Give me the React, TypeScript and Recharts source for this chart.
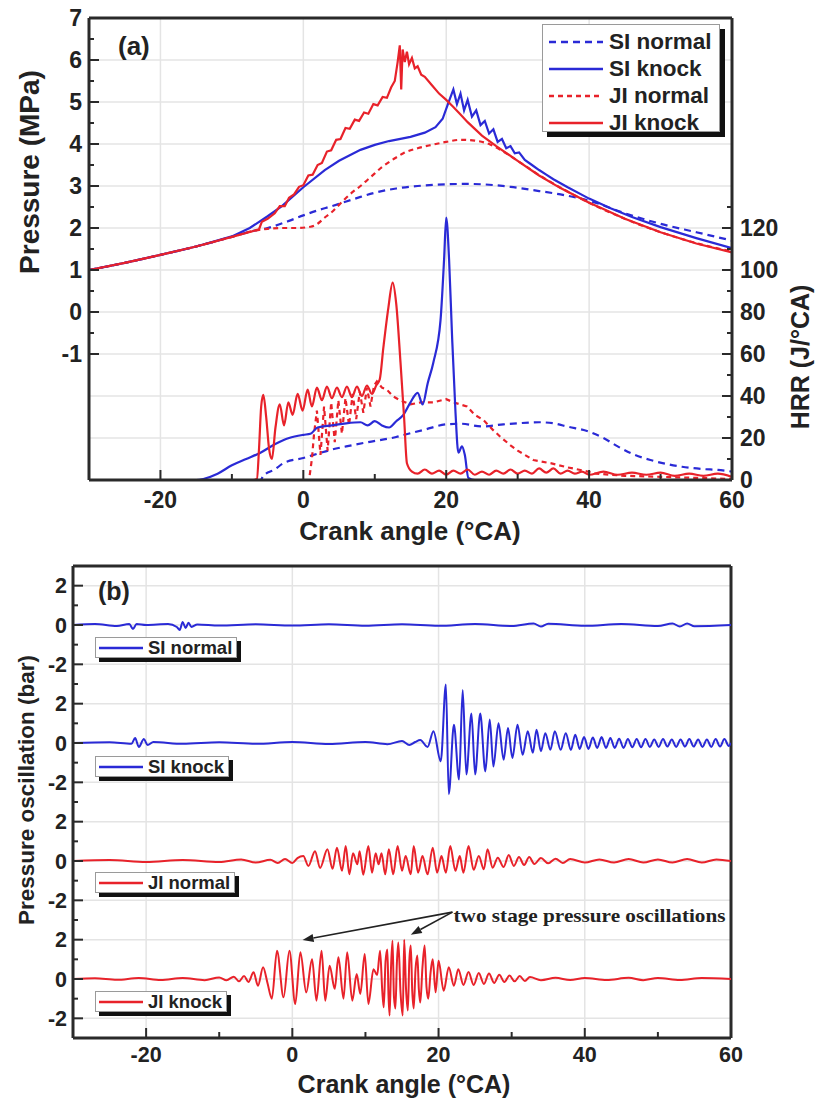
import React from 'react';
import { LineChart, Line, XAxis, YAxis, CartesianGrid, ReferenceLine, ReferenceDot } from 'recharts';

type Pt = [number, number];

const BLUE = '#2a2ad6';
const RED = '#e8222a';
const AXIS = '#2a2a2a';
const GRID = '#e4e4e4';
const FONT = '"Liberation Sans", Arial, sans-serif';
const SERIF = '"Liberation Serif", "Times New Roman", serif';

// ---------- axis ticks ----------
const X_TICKS = [-20, -10, 0, 10, 20, 30, 40, 50, 60];
const X_LABELS = [-20, 0, 20, 40, 60];
const X_GRID = [-20, 0, 20, 40];

const P_TICKS = [-1, -0.5, 0, 0.5, 1, 1.5, 2, 2.5, 3, 3.5, 4, 4.5, 5, 5.5, 6, 6.5, 7];
const P_GRID = [-3, -2, -1, 0, 1, 2, 3, 4, 5, 6];
const HRR_TICKS = [0, 10, 20, 30, 40, 50, 60, 70, 80, 90, 100, 110, 120, 130];
const HRR_LABELS = [0, 20, 40, 60, 80, 100, 120];

const B_TICKS = [-2, -1, 0, 1, 2, 3, 4, 5, 6, 7, 8, 9, 10, 11, 12, 13, 14, 15, 16, 17, 18, 19, 20];
const B_TICK_VALUES = [-2, 0, 2, 4, 6, 8, 10, 12, 14, 16, 18, 20];
const B_TICK_LABELS = ['-2', '0', '2', '-2', '0', '2', '-2', '0', '2', '-2', '0', '2'];
const B_GRID = [-2, 0, 2, 4, 6, 8, 10, 12, 14, 16, 18, 20];

// ---------- panel (a): pressure (MPa) ----------
const SI_NORMAL_P: Pt[] = [[-30, 1], [-25, 1.17], [-20, 1.36], [-15, 1.56], [-10, 1.79], [-7, 1.93], [-5, 2.0], [-4, 2.05], [-2, 2.17], [0, 2.3], [2, 2.42], [4, 2.52], [6, 2.63], [8, 2.74], [10, 2.84], [13, 2.94], [16, 3.0], [20, 3.04], [23, 3.05], [26, 3.03], [29, 2.98], [33, 2.88], [36, 2.8], [40, 2.65], [45, 2.35], [50, 2.1], [55, 1.9], [60, 1.7]];
const SI_KNOCK_P: Pt[] = [[-30, 1], [-25, 1.17], [-20, 1.36], [-15, 1.56], [-10, 1.8], [-7.5, 2.0], [-5, 2.28], [-3, 2.52], [0, 2.97], [3, 3.38], [5, 3.6], [8, 3.86], [10, 3.98], [12, 4.07], [15, 4.17], [17, 4.27], [18.5, 4.4], [19.5, 4.6], [20.3, 4.98], [21, 5.3], [21.5, 4.95], [22, 5.2], [22.5, 4.8], [23, 5.05], [23.6, 4.65], [24.2, 4.8], [24.8, 4.45], [25.4, 4.55], [26, 4.25], [26.6, 4.35], [27.2, 4.05], [27.8, 4.12], [28.4, 3.9], [29, 3.95], [29.6, 3.78], [30.2, 3.8], [31, 3.62], [32, 3.5], [33, 3.38], [34, 3.27], [35, 3.16], [37, 2.97], [40, 2.7], [43, 2.47], [46, 2.26], [50, 2.02], [55, 1.76], [60, 1.52]];
const JI_NORMAL_P: Pt[] = [[-30, 1], [-25, 1.17], [-20, 1.36], [-15, 1.56], [-10, 1.79], [-7, 1.93], [-5, 1.98], [-3, 2.0], [-1, 2.0], [1, 2.03], [2, 2.1], [3, 2.25], [4, 2.38], [5, 2.55], [6, 2.72], [7, 2.87], [8, 3.0], [9, 3.15], [10, 3.3], [11, 3.45], [12, 3.57], [13, 3.68], [14, 3.78], [16, 3.9], [18, 3.98], [20, 4.05], [22, 4.1], [24, 4.08], [26, 4.0], [28, 3.82], [30, 3.6], [33, 3.26], [36, 2.96], [40, 2.6], [45, 2.22], [50, 1.9], [55, 1.64], [60, 1.44]];
const JI_KNOCK_P: Pt[] = [[-30, 1], [-25, 1.17], [-20, 1.36], [-15, 1.56], [-10, 1.79], [-7, 1.93], [-6.2, 1.97], [-5.8, 2.15], [-5, 2.22], [-4, 2.35], [-3.3, 2.52], [-2.6, 2.52], [-2, 2.72], [-1.3, 2.8], [-0.6, 2.98], [0, 3.02], [0.7, 3.25], [1.3, 3.27], [2, 3.5], [2.6, 3.55], [3.3, 3.82], [3.9, 3.85], [4.6, 4.1], [5.2, 4.12], [5.9, 4.38], [6.5, 4.36], [7.2, 4.58], [7.8, 4.55], [8.5, 4.75], [9.1, 4.72], [9.8, 4.95], [10.4, 4.92], [11.1, 5.12], [11.7, 5.1], [12.3, 5.35], [12.8, 5.5], [13.2, 5.95], [13.5, 6.35], [13.7, 5.3], [13.9, 6.25], [14.2, 5.95], [14.5, 6.2], [14.8, 5.9], [15.2, 6.05], [15.6, 5.8], [16, 5.85], [16.5, 5.65], [17, 5.6], [18, 5.4], [19, 5.2], [20, 5.05], [21, 4.88], [22, 4.7], [23, 4.52], [24, 4.36], [25, 4.2], [27, 3.95], [30, 3.6], [33, 3.25], [36, 2.95], [40, 2.6], [42, 2.45], [45, 2.22], [50, 1.9], [55, 1.63], [60, 1.42]];

// ---------- panel (a): heat release rate (J/°CA) ----------
const SI_NORMAL_HRR: Pt[] = [[-30, 0], [-6, 0], [-5.6, 2], [-4, 5], [-2.8, 8], [0, 10.5], [2, 12.5], [4, 14.5], [6, 16], [9, 18], [13, 20.5], [14, 21.4], [17, 24], [20, 26.5], [22, 26.8], [25, 25.5], [28, 26.5], [30, 27], [33, 27.5], [35, 27], [37, 25.4], [40, 23], [42, 20], [44, 16], [46, 12.5], [48.6, 9.5], [51, 7.5], [53, 6.3], [56, 5.2], [58, 4.8], [60, 4]];
const SI_KNOCK_HRR: Pt[] = [[-30, 0], [-15, 0], [-14, 0.5], [-12, 3], [-10, 7], [-8, 10], [-6, 13], [-4, 17], [-2, 20], [0, 21.5], [1, 22], [2, 25], [4, 26], [6, 27], [8, 27.5], [9, 26], [10, 28], [11, 26], [12, 25], [13, 28], [14, 31], [15, 37], [16, 41.5], [16.7, 36], [17.4, 46], [18.2, 56], [19.2, 76], [19.7, 105], [20, 125], [20.4, 105], [20.8, 70], [21.3, 32], [21.7, 13], [22.2, 16], [22.6, 12], [23.1, 1], [24, 0], [60, 0]];
const JI_NORMAL_HRR: Pt[] = [[-30, 0], [0.8, 0], [1.2, 10], [1.5, 22], [1.9, 33], [2.4, 12], [2.9, 35], [3.4, 14], [3.9, 37], [4.4, 18], [4.9, 38], [5.4, 22], [5.9, 39], [6.4, 26], [6.9, 41], [7.4, 29], [7.9, 42], [8.4, 32], [8.9, 44], [9.4, 35], [9.9, 45], [10.3, 47], [11, 44], [11.7, 43], [12.5, 40], [13.5, 38], [15, 36], [16.5, 37], [18.2, 37], [20, 38.5], [21, 37], [22.9, 35], [24, 31], [25.2, 28.6], [26.5, 24], [27.6, 20.5], [29, 16.5], [30, 14], [32.2, 9.5], [34.6, 8], [37, 6], [39.2, 4.5], [41, 3], [45, 2], [50, 1.5], [55, 1], [60, 0.5]];
const JI_KNOCK_HRR: Pt[] = [[-30, 0], [-7, 0], [-6.5, 0.5], [-6.2, 15], [-5.9, 35], [-5.6, 40.5], [-5.2, 30], [-4.8, 15], [-4.4, 10], [-3.9, 25], [-3.3, 36], [-2.7, 26], [-2.1, 37], [-1.5, 31], [-0.8, 41], [-0.1, 33], [0.6, 43], [1.2, 35], [1.9, 44], [2.6, 38], [3.3, 44.5], [4, 39], [4.7, 44], [5.4, 39.5], [6.1, 44.5], [6.8, 39.5], [7.5, 44.5], [8.2, 40], [8.9, 45], [9.6, 41], [10.2, 45], [10.7, 48], [11.2, 63], [11.9, 82], [12.5, 94], [13, 84], [13.6, 56], [14.1, 30], [14.5, 8], [15.2, 4], [16, 3], [17, 5], [18, 3], [19, 4.5], [20, 2.5], [21, 4.5], [22, 3], [23, 5], [24, 2.5], [25, 4], [26, 2.5], [27, 4.5], [28, 3], [29, 5], [30, 3], [31, 4.5], [32, 3], [33, 5.5], [34, 3.5], [35, 5.5], [36, 3], [37, 4.5], [38, 3], [39, 4], [40, 2.5], [42, 4], [44, 2.5], [46, 3.5], [48, 2.5], [50, 3.5], [52, 2], [54, 3], [56, 2], [58, 3], [60, 1.5]];

// ---------- panel (b): pressure oscillation (bar) ----------
const SI_NORMAL_OSC: Pt[] = [[-30, 0], [-27, 0.05], [-24, -0.05], [-22.3, 0.05], [-21.8, -0.2], [-21.3, 0.05], [-20, 0], [-17, 0.05], [-15.8, -0.1], [-15.4, -0.25], [-15, 0.15], [-14.6, -0.15], [-14.2, 0.12], [-13.8, -0.1], [-13, 0.03], [-10, -0.03], [-5, 0.04], [0, -0.03], [5, 0.04], [10, -0.04], [15, 0.04], [20, -0.04], [25, 0.05], [30, -0.05], [33, 0.08], [34, -0.08], [35, 0.06], [40, -0.04], [45, 0.05], [50, -0.05], [52, 0.08], [53, -0.08], [54, 0.08], [55, -0.06], [60, 0]];
const SI_KNOCK_OSC: Pt[] = [[-30, 0], [-25, 0.04], [-22, -0.04], [-21.5, 0.25], [-21, -0.2], [-20.3, 0.2], [-19.8, -0.1], [-19, 0.05], [-15, -0.04], [-10, 0.04], [-5, -0.04], [0, 0.05], [5, -0.05], [10, 0.05], [13, -0.06], [15, 0.1], [16, -0.1], [16.8, 0.05], [17.5, 0.15], [18.5, -0.2], [19.3, 0.6], [20.3, -0.93], [21, 2.97], [21.4, -2.6], [22.1, 0.93], [22.8, -1.86], [23.3, 2.7], [23.8, -1.6], [24.5, 1.5], [25, -1.6], [25.7, 1.5], [26.4, -1.45], [27, 1.2], [27.5, -1.2], [28.2, 1.0], [28.9, -0.85], [29.5, 0.76], [30.1, -0.76], [30.8, 0.93], [31.5, -0.6], [32.2, 0.6], [32.9, -0.5], [33.4, 0.68], [34, -0.42], [34.6, 0.5], [35.3, -0.34], [35.9, 0.6], [36.7, -0.34], [37.4, 0.5], [38.1, -0.35], [38.7, 0.42], [39.3, -0.3], [39.9, 0.3], [40.5, -0.3], [41.1, 0.28], [41.7, -0.25], [42.3, 0.3], [42.9, -0.25], [43.5, 0.25], [44.1, -0.25], [44.7, 0.22], [45.3, -0.25], [45.9, 0.2], [46.5, -0.22], [47.1, 0.2], [47.7, -0.22], [48.3, 0.2], [48.9, -0.2], [49.5, 0.18], [50.1, -0.2], [50.7, 0.2], [51.3, -0.18], [51.9, 0.18], [52.5, -0.2], [53.1, 0.18], [53.7, -0.18], [54.3, 0.2], [54.9, -0.18], [55.5, 0.18], [56.1, -0.2], [56.7, 0.18], [57.3, -0.2], [57.9, 0.2], [58.5, -0.18], [59.1, 0.2], [59.7, -0.15], [60, 0]];
const JI_NORMAL_OSC: Pt[] = [[-30, 0], [-25, 0.05], [-20, -0.05], [-15, 0.05], [-10, -0.05], [-7, 0.08], [-5, -0.08], [-3, 0.06], [-2, -0.1], [-1, 0.1], [0, -0.1], [0.7, 0.15], [1.5, 0.25], [2.2, -0.25], [3.1, 0.5], [3.8, -0.35], [4.8, 0.6], [5.5, -0.4], [6.1, 0.68], [6.8, -0.5], [7.3, 0.76], [7.8, -0.68], [8.3, 0.4], [8.9, -0.17], [9.2, 0.5], [9.7, -0.7], [10.4, 0.76], [10.9, -0.6], [11.4, 0.4], [11.8, -0.17], [12.2, 0.4], [12.7, -0.68], [13.2, 0.6], [13.8, -0.68], [14.4, 0.76], [15, -0.5], [15.5, 0.25], [16.2, -0.68], [16.6, 0.76], [17.2, -0.6], [17.8, 0.25], [18.5, -0.68], [19.2, 0.68], [19.8, -0.6], [20.4, 0.25], [21, -0.6], [21.6, 0.76], [22.3, -0.5], [22.9, 0.25], [23.4, -0.6], [24.1, 0.76], [24.8, -0.45], [25.5, 0.25], [26.2, -0.42], [26.7, 0.6], [27.4, -0.34], [28.1, 0.17], [28.9, -0.3], [29.6, 0.3], [30.3, -0.25], [31, 0.2], [31.7, -0.2], [32.4, 0.2], [33.1, -0.15], [34, 0.15], [35, -0.12], [36, 0.12], [37, -0.1], [38, 0.1], [40, -0.08], [42, 0.08], [44, -0.08], [46, 0.1], [48, -0.08], [50, 0.08], [52, -0.08], [54, 0.1], [56, -0.08], [58, 0.08], [60, 0]];
const JI_KNOCK_OSC: Pt[] = [[-30, 0], [-27, 0.04], [-24, -0.04], [-21, 0.05], [-18, -0.05], [-15, 0.05], [-12, -0.06], [-10, 0.08], [-9, -0.06], [-8, 0.12], [-7.3, -0.12], [-6.6, 0.15], [-6, -0.15], [-5.3, 0.34], [-4.7, -0.34], [-4, 0.6], [-3.4, -0.2], [-2.8, -1.0], [-2.1, 1.44], [-1.2, -0.93], [-0.4, 1.44], [0.4, -1.27], [1.1, 1.36], [1.9, -0.68], [2.7, 1.0], [3.3, -1.1], [4, 1.44], [4.5, -1.1], [5.1, 0.68], [5.8, -0.5], [6.3, 1.1], [7, -1.0], [7.5, 1.36], [8.2, -1.1], [8.8, 0.25], [9.3, -0.76], [9.9, 1.27], [10.4, -1.27], [11.1, 0.5], [11.6, 0.2], [12, 1.44], [12.3, -0.6], [12.5, -1.44], [12.75, 0.9], [13, 1.5], [13.15, -0.8], [13.3, -1.86], [13.5, 0.6], [13.7, 1.95], [13.9, -0.9], [14.1, -1.5], [14.3, 0.8], [14.5, 1.86], [14.8, -0.7], [15.1, -1.86], [15.3, 2.0], [15.55, -0.5], [15.8, -1.6], [16.0, 0.9], [16.2, 1.7], [16.4, -0.6], [16.6, -1.5], [16.85, 0.5], [17.1, 1.2], [17.3, -0.5], [17.5, -1.2], [17.8, 0.6], [18.1, 1.7], [18.35, -0.4], [18.6, -1.0], [18.9, 0.3], [19.2, 1.0], [19.6, -0.68], [20, 0.93], [20.7, -0.6], [21.4, 0.6], [22.1, -0.34], [22.7, 0.5], [23.4, -0.3], [24.1, 0.35], [24.8, -0.3], [25.5, 0.3], [26.2, -0.25], [26.9, 0.28], [27.6, -0.2], [28.3, 0.22], [29, -0.15], [29.7, 0.18], [30.4, -0.12], [31.1, 0.15], [31.8, -0.1], [32.5, 0.1], [34, -0.06], [36, 0.06], [38, -0.05], [40, 0.05], [43, -0.05], [46, 0.06], [48, -0.06], [50, 0.05], [53, -0.05], [56, 0.05], [60, 0]];

// stacking offsets of the four oscillation traces (bar)
const OFFSETS = { siNormal: 18, siKnock: 12, jiNormal: 6, jiKnock: 0 };

// annotation arrows (panel b, data coordinates)
const ARROW_START = { x: 21.9, y: 3.4 };
const ARROW_TIPS = [{ x: 1.4, y: 1.98 }, { x: 16.2, y: 2.25 }];
const ANNOTATION = { x: 22.05, y: 3.26, text: 'two stage pressure oscillations' };

const toXY = (pts: Pt[], offset = 0) => pts.map(([x, y]) => ({ x, y: y + offset }));

const LEGEND_A = [
  { name: 'SI normal', color: BLUE, dash: '7 5' },
  { name: 'SI knock', color: BLUE, dash: '' },
  { name: 'JI normal', color: RED, dash: '5 4' },
  { name: 'JI knock', color: RED, dash: '' },
];

const LEGEND_B = [
  { name: 'SI normal', color: BLUE, top: 637 },
  { name: 'SI knock', color: BLUE, top: 756 },
  { name: 'JI normal', color: RED, top: 872 },
  { name: 'JI knock', color: RED, top: 991 },
];

// ---------- tick renderers ----------
const makeLeftTick = (isMajor: (v: number) => boolean, label: (v: number) => string | null, fontSize: number, gap: number) =>
  (props: any) => {
    const { x, y, payload } = props;
    const v = payload.value as number;
    const major = isMajor(v);
    const t = label(v);
    return (
      <g>
        <line x1={x} y1={y} x2={x + (major ? 10 : 5)} y2={y} stroke={AXIS} strokeWidth={2} />
        {t !== null && (
          <text x={x - gap} y={y} dy="0.36em" textAnchor="end" fontFamily={FONT} fontWeight="bold" fontSize={fontSize} fill="#222">
            {t}
          </text>
        )}
      </g>
    );
  };

const makeRightTick = (isMajor: (v: number) => boolean, label: (v: number) => string | null, fontSize: number, gap: number) =>
  (props: any) => {
    const { x, y, payload } = props;
    const v = payload.value as number;
    const major = isMajor(v);
    const t = label(v);
    return (
      <g>
        <line x1={x} y1={y} x2={x - (major ? 10 : 5)} y2={y} stroke={AXIS} strokeWidth={2} />
        {t !== null && (
          <text x={x + gap} y={y} dy="0.36em" textAnchor="start" fontFamily={FONT} fontWeight="bold" fontSize={fontSize} fill="#222">
            {t}
          </text>
        )}
      </g>
    );
  };

const makeBottomTick = (fontSize: number, gap: number) => (props: any) => {
  const { x, y, payload } = props;
  const v = payload.value as number;
  const major = X_LABELS.includes(v);
  return (
    <g>
      <line x1={x} y1={y} x2={x} y2={y - (major ? 10 : 6)} stroke={AXIS} strokeWidth={2} />
      {major && (
        <text x={x} y={y + gap} dy="0.36em" textAnchor="middle" fontFamily={FONT} fontWeight="bold" fontSize={fontSize} fill="#222">
          {String(v)}
        </text>
      )}
    </g>
  );
};

const LeftTickA = makeLeftTick((v) => Number.isInteger(v), (v) => (Number.isInteger(v) ? String(v) : null), 23, 7);
const RightTickA = makeRightTick((v) => v % 20 === 0, (v) => (HRR_LABELS.includes(v) ? String(v) : null), 23, 8);
const BottomTickA = makeBottomTick(23, 20);
const BottomTickB = makeBottomTick(21.5, 16);
const LeftTickB = makeLeftTick(
  (v) => B_TICK_VALUES.includes(v),
  (v) => {
    const i = B_TICK_VALUES.indexOf(v);
    return i >= 0 ? B_TICK_LABELS[i] : null;
  },
  21.5,
  6,
);

const Arrow = (p: any) => {
  const { x1, y1, x2, y2 } = p;
  const dx = x2 - x1;
  const dy = y2 - y1;
  const len = Math.hypot(dx, dy) || 1;
  const ux = dx / len;
  const uy = dy / len;
  const hl = 11;
  const hw = 4;
  const bx = x2 - ux * hl;
  const by = y2 - uy * hl;
  return (
    <g>
      <line x1={x1} y1={y1} x2={bx} y2={by} stroke="#222" strokeWidth={1.6} />
      <polygon points={`${x2},${y2} ${bx - uy * hw},${by + ux * hw} ${bx + uy * hw},${by - ux * hw}`} fill="#222" />
    </g>
  );
};

const AnnotationText = (p: any) => (
  <text x={p.cx} y={p.cy} dy="0.35em" fontFamily={SERIF} fontWeight="bold" fontSize={19} fill="#222" textLength={272} lengthAdjust="spacingAndGlyphs">
    {ANNOTATION.text}
  </text>
);

const boldText: React.CSSProperties = { fontFamily: FONT, fontWeight: 'bold', color: '#222', position: 'absolute', whiteSpace: 'nowrap', lineHeight: 1 };

const RotText = ({ cx, cy, size, children }: { cx: number; cy: number; size: number; children: React.ReactNode }) => (
  <div style={{ ...boldText, left: cx, top: cy, fontSize: size, transform: 'translate(-50%, -50%) rotate(-90deg)' }}>{children}</div>
);

const CenterText = ({ cx, cy, size, children }: { cx: number; cy: number; size: number; children: React.ReactNode }) => (
  <div style={{ ...boldText, left: cx, top: cy, fontSize: size, transform: 'translate(-50%, -50%)' }}>{children}</div>
);

const axisLineStyle = { stroke: AXIS, strokeWidth: 3 };

export default function App() {
  return (
    <div style={{ position: 'absolute', left: 0, top: 0, width: 815, height: 1101, background: '#fff', overflow: 'hidden' }}>
      {/* ---------------- panel (a) ---------------- */}
      <div style={{ position: 'absolute', left: 0, top: 0 }}>
        <LineChart width={815} height={545} margin={{ top: 18, right: 33, bottom: 25, left: 49 }}>
          <CartesianGrid yAxisId="p" horizontalValues={P_GRID} verticalValues={X_GRID} stroke={GRID} strokeWidth={1.5} />
          <XAxis dataKey="x" type="number" domain={[-30, 60]} ticks={X_TICKS} interval={0} allowDataOverflow height={40} tickSize={0} tickMargin={0} tickLine={false} axisLine={axisLineStyle} tick={BottomTickA} />
          <YAxis yAxisId="p" orientation="left" type="number" domain={[-4, 7]} ticks={P_TICKS} interval={0} allowDataOverflow width={40} tickSize={0} tickMargin={0} tickLine={false} axisLine={axisLineStyle} tick={LeftTickA} />
          <YAxis yAxisId="h" orientation="right" type="number" domain={[0, 220]} ticks={HRR_TICKS} interval={0} allowDataOverflow width={50} tickSize={0} tickMargin={0} tickLine={false} axisLine={axisLineStyle} tick={RightTickA} />
          <ReferenceLine yAxisId="p" y={7} stroke={AXIS} strokeWidth={3} />

          <Line yAxisId="h" data={toXY(SI_NORMAL_HRR)} dataKey="y" type="monotone" stroke={BLUE} strokeWidth={2.2} strokeDasharray="7 5" dot={false} isAnimationActive={false} />
          <Line yAxisId="h" data={toXY(JI_NORMAL_HRR)} dataKey="y" type="linear" stroke={RED} strokeWidth={2.2} strokeDasharray="5 4" dot={false} isAnimationActive={false} />
          <Line yAxisId="h" data={toXY(SI_KNOCK_HRR)} dataKey="y" type="monotone" stroke={BLUE} strokeWidth={2.2} dot={false} isAnimationActive={false} />
          <Line yAxisId="h" data={toXY(JI_KNOCK_HRR)} dataKey="y" type="monotone" stroke={RED} strokeWidth={2.2} dot={false} isAnimationActive={false} />

          <Line yAxisId="p" data={toXY(SI_NORMAL_P)} dataKey="y" type="monotone" stroke={BLUE} strokeWidth={2.2} strokeDasharray="7 5" dot={false} isAnimationActive={false} />
          <Line yAxisId="p" data={toXY(JI_NORMAL_P)} dataKey="y" type="monotone" stroke={RED} strokeWidth={2.2} strokeDasharray="5 4" dot={false} isAnimationActive={false} />
          <Line yAxisId="p" data={toXY(SI_KNOCK_P)} dataKey="y" type="linear" stroke={BLUE} strokeWidth={2.2} dot={false} isAnimationActive={false} />
          <Line yAxisId="p" data={toXY(JI_KNOCK_P)} dataKey="y" type="linear" stroke={RED} strokeWidth={2.2} dot={false} isAnimationActive={false} />
        </LineChart>
      </div>

      <div style={{ ...boldText, left: 118, top: 33, fontSize: 26 }}>(a)</div>
      <RotText cx={30} cy={172} size={28}>Pressure (MPa)</RotText>
      <RotText cx={800} cy={357} size={25}>HRR (J/°CA)</RotText>
      <CenterText cx={410} cy={531} size={26}>Crank angle (°CA)</CenterText>

      <div style={{ position: 'absolute', left: 542, top: 24, width: 178, height: 108, background: '#fff', border: '1.5px solid #9a9a9a', boxSizing: 'border-box', boxShadow: '5px 5px 0 #111' }}>
        {LEGEND_A.map((s, i) => (
          <div key={s.name} style={{ position: 'absolute', left: 5, top: 4 + i * 27, height: 26, display: 'flex', alignItems: 'center' }}>
            <svg width={56} height={10}>
              <line x1={1} y1={5} x2={55} y2={5} stroke={s.color} strokeWidth={2.5} strokeDasharray={s.dash || undefined} />
            </svg>
            <span style={{ fontFamily: FONT, fontWeight: 'bold', fontSize: 22.5, color: '#222', marginLeft: 5, whiteSpace: 'nowrap' }}>{s.name}</span>
          </div>
        ))}
      </div>

      {/* ---------------- panel (b) ---------------- */}
      <div style={{ position: 'absolute', left: 0, top: 545 }}>
        <LineChart width={815} height={556} margin={{ top: 21, right: 84, bottom: 23, left: 33 }}>
          <CartesianGrid yAxisId="o" horizontalValues={B_GRID} verticalValues={X_GRID} stroke={GRID} strokeWidth={1.5} />
          <XAxis dataKey="x" type="number" domain={[-30, 60]} ticks={X_TICKS} interval={0} allowDataOverflow height={40} tickSize={0} tickMargin={0} tickLine={false} axisLine={axisLineStyle} tick={BottomTickB} />
          <YAxis yAxisId="o" orientation="left" type="number" domain={[-3, 21]} ticks={B_TICKS} interval={0} allowDataOverflow width={40} tickSize={0} tickMargin={0} tickLine={false} axisLine={axisLineStyle} tick={LeftTickB} />
          <ReferenceLine yAxisId="o" y={21} stroke={AXIS} strokeWidth={3} />
          <ReferenceLine yAxisId="o" x={60} stroke={AXIS} strokeWidth={3} />

          <Line yAxisId="o" data={toXY(SI_NORMAL_OSC, OFFSETS.siNormal)} dataKey="y" type="monotone" stroke={BLUE} strokeWidth={2} dot={false} isAnimationActive={false} />
          <Line yAxisId="o" data={toXY(SI_KNOCK_OSC, OFFSETS.siKnock)} dataKey="y" type="monotone" stroke={BLUE} strokeWidth={2} dot={false} isAnimationActive={false} />
          <Line yAxisId="o" data={toXY(JI_NORMAL_OSC, OFFSETS.jiNormal)} dataKey="y" type="monotone" stroke={RED} strokeWidth={2} dot={false} isAnimationActive={false} />
          <Line yAxisId="o" data={toXY(JI_KNOCK_OSC, OFFSETS.jiKnock)} dataKey="y" type="monotone" stroke={RED} strokeWidth={2} dot={false} isAnimationActive={false} />

          {ARROW_TIPS.map((tip, i) => (
            <ReferenceLine key={i} yAxisId="o" segment={[ARROW_START, tip]} shape={Arrow} />
          ))}
          <ReferenceDot yAxisId="o" x={ANNOTATION.x} y={ANNOTATION.y} r={0} shape={AnnotationText} />
        </LineChart>
      </div>

      <div style={{ ...boldText, left: 98, top: 579, fontSize: 25 }}>(b)</div>
      <RotText cx={27} cy={790} size={22.5}>Pressure oscillation (bar)</RotText>
      <CenterText cx={404} cy={1084} size={25}>Crank angle (°CA)</CenterText>

      {LEGEND_B.map((s) => (
        <div key={s.name} style={{ position: 'absolute', left: 95, top: s.top, height: 21, display: 'flex', alignItems: 'center', background: '#fff', border: '1.5px solid #9a9a9a', boxSizing: 'border-box', boxShadow: '4px 4px 0 #111', paddingRight: 4, paddingLeft: 2 }}>
          <svg width={46} height={8}>
            <line x1={1} y1={4} x2={45} y2={4} stroke={s.color} strokeWidth={2.5} />
          </svg>
          <span style={{ fontFamily: FONT, fontWeight: 'bold', fontSize: 18.5, color: '#222', marginLeft: 4, whiteSpace: 'nowrap' }}>{s.name}</span>
        </div>
      ))}
    </div>
  );
}
